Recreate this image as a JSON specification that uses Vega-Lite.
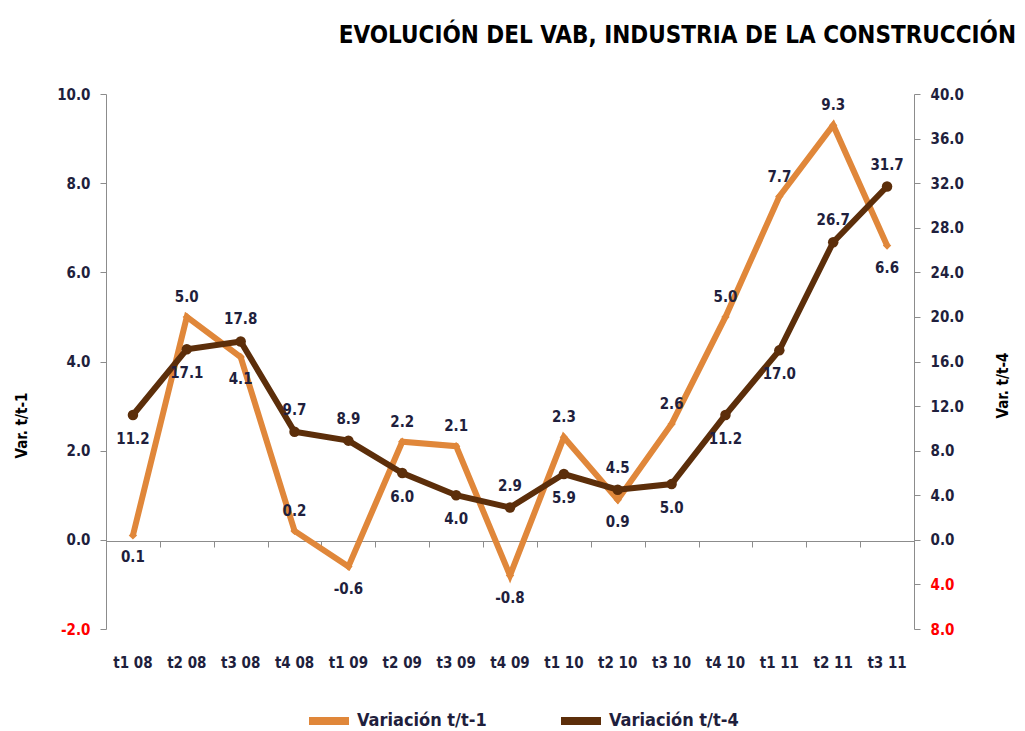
{
  "$schema": "https://vega.github.io/schema/vega-lite/v6.json",
  "width": 808,
  "height": 535,
  "autosize": {"type": "none"},
  "padding": {"left": 106, "top": 94, "right": 111, "bottom": 102},
  "background": "white",
  "title": {
    "text": "EVOLUCIÓN DEL VAB, INDUSTRIA DE LA CONSTRUCCIÓN",
    "anchor": "end",
    "frame": "group",
    "dx": 102,
    "offset": 20,
    "baseline": "alphabetic",
    "fontSize": 24,
    "fontWeight": "bold",
    "color": "#000000",
    "font": "Liberation Sans Narrow, DejaVu Sans Condensed, sans-serif"
  },
  "config": {
    "locale": {"number": {"decimal": ".", "thousands": ",", "grouping": [3], "currency": ["$", ""], "minus": "-"}},
    "view": {"stroke": null},
    "font": "Liberation Sans Narrow, DejaVu Sans Condensed, sans-serif",
    "axis": {"grid": false, "labelFont": "Liberation Sans Narrow, DejaVu Sans Condensed, sans-serif", "titleFont": "Liberation Sans Narrow, DejaVu Sans Condensed, sans-serif"},
    "legend": {
      "orient": "none",
      "legendX": 199,
      "legendY": 603,
      "direction": "horizontal",
      "symbolType": "stroke",
      "symbolStrokeWidth": 8,
      "symbolSize": 1600,
      "labelFontSize": 18,
      "labelFontWeight": "bold",
      "labelColor": "#1f1f3d",
      "columnPadding": 58,
      "title": null
    }
  },
  "data": {
    "values": [
      {"q": "t1 08", "a": 0.1, "b": 11.2},
      {"q": "t2 08", "a": 5.0, "b": 17.1},
      {"q": "t3 08", "a": 4.1, "b": 17.8},
      {"q": "t4 08", "a": 0.2, "b": 9.7},
      {"q": "t1 09", "a": -0.6, "b": 8.9},
      {"q": "t2 09", "a": 2.2, "b": 6.0},
      {"q": "t3 09", "a": 2.1, "b": 4.0},
      {"q": "t4 09", "a": -0.8, "b": 2.9},
      {"q": "t1 10", "a": 2.3, "b": 5.9},
      {"q": "t2 10", "a": 0.9, "b": 4.5},
      {"q": "t3 10", "a": 2.6, "b": 5.0},
      {"q": "t4 10", "a": 5.0, "b": 11.2},
      {"q": "t1 11", "a": 7.7, "b": 17.0},
      {"q": "t2 11", "a": 9.3, "b": 26.7},
      {"q": "t3 11", "a": 6.6, "b": 31.7}
    ]
  },
  "layer": [
    {
      "encoding": {
        "x": {
          "field": "q", "type": "ordinal", "sort": null, "bandPosition": 0.5,
          "scale": {"type": "band", "paddingInner": 0, "paddingOuter": 0},
          "axis": {"orient": "bottom", "title": null, "domain": false, "ticks": false, "tickSize": 0, "labelPadding": 26, "labelAngle": 0, "labelFontSize": 15, "labelFontWeight": "bold", "labelColor": "#1f1f3d"}
        },
        "y": {
          "field": "a", "type": "quantitative",
          "scale": {"domain": [-2, 10], "nice": false, "zero": false},
          "axis": {
            "orient": "left", "values": [-2, 0, 2, 4, 6, 8, 10], "format": ".1f",
            "domainColor": "#8c8c8c", "tickColor": "#8c8c8c", "tickSize": 6, "labelPadding": 10,
            "labelFontSize": 15, "labelFontWeight": "bold",
            "labelColor": {"condition": {"test": "datum.value < 0", "value": "#ff0000"}, "value": "#1f1f3d"},
            "title": "Var. t/t-1", "titleFontSize": 15, "titleFontWeight": "bold", "titleColor": "#000000",
            "titleX": -77, "titleY": 331, "titleAngle": 270
          }
        }
      },
      "layer": [
        {
          "mark": {"type": "line", "strokeWidth": 6, "point": {"shape": "diamond", "size": 70, "filled": true, "color": "#E0873A"}},
          "encoding": {
            "color": {"datum": "Variación t/t-1", "type": "nominal", "scale": {"domain": ["Variación t/t-1", "Variación t/t-4"], "range": ["#E0873A", "#5C2E0A"]}}
          }
        },
        {
          "transform": [{"filter": "indexof(['t2 08','t4 08','t2 09','t3 09','t1 10','t3 10','t4 10','t1 11','t2 11'], datum.q) >= 0"}],
          "mark": {"type": "text", "dy": -20, "fontSize": 15, "fontWeight": "bold", "color": "#1f1f3d"},
          "encoding": {"text": {"field": "a", "type": "quantitative", "format": ".1f"}}
        },
        {
          "transform": [{"filter": "indexof(['t2 08','t4 08','t2 09','t3 09','t1 10','t3 10','t4 10','t1 11','t2 11'], datum.q) < 0"}],
          "mark": {"type": "text", "dy": 22, "fontSize": 15, "fontWeight": "bold", "color": "#1f1f3d"},
          "encoding": {"text": {"field": "a", "type": "quantitative", "format": ".1f"}}
        }
      ]
    },
    {
      "encoding": {
        "x": {
          "field": "q", "type": "ordinal", "sort": null, "bandPosition": 0.5,
          "scale": {"type": "band", "paddingInner": 0, "paddingOuter": 0},
          "axis": {"orient": "bottom", "title": null, "labels": false, "domain": true, "ticks": true, "tickBand": "extent", "tickSize": 6, "domainColor": "#8c8c8c", "tickColor": "#8c8c8c", "offset": -88}
        },
        "y": {
          "field": "b", "type": "quantitative",
          "scale": {"domain": [-8, 40], "nice": false, "zero": false},
          "axis": {
            "orient": "right", "values": [-8, -4, 0, 4, 8, 12, 16, 20, 24, 28, 32, 36, 40],
            "labelExpr": "format(abs(datum.value), '.1f')",
            "domainColor": "#8c8c8c", "tickColor": "#8c8c8c", "tickSize": 6, "labelPadding": 10,
            "labelFontSize": 15, "labelFontWeight": "bold",
            "labelColor": {"condition": {"test": "datum.value < 0", "value": "#ff0000"}, "value": "#1f1f3d"},
            "title": "Var. t/t-4", "titleFontSize": 15, "titleFontWeight": "bold", "titleColor": "#000000",
            "titleX": 96, "titleY": 291, "titleAngle": 270
          }
        }
      },
      "layer": [
        {
          "mark": {"type": "line", "strokeWidth": 6, "point": {"shape": "circle", "size": 110, "filled": true, "color": "#5C2E0A"}},
          "encoding": {
            "color": {"datum": "Variación t/t-4", "type": "nominal"}
          }
        },
        {
          "transform": [{"filter": "indexof(['t3 08','t4 08','t1 09','t4 09','t2 10','t2 11','t3 11'], datum.q) >= 0"}],
          "mark": {"type": "text", "dy": -22, "fontSize": 15, "fontWeight": "bold", "color": "#1f1f3d"},
          "encoding": {"text": {"field": "b", "type": "quantitative", "format": ".1f"}}
        },
        {
          "transform": [{"filter": "indexof(['t3 08','t4 08','t1 09','t4 09','t2 10','t2 11','t3 11'], datum.q) < 0"}],
          "mark": {"type": "text", "dy": 24, "fontSize": 15, "fontWeight": "bold", "color": "#1f1f3d"},
          "encoding": {"text": {"field": "b", "type": "quantitative", "format": ".1f"}}
        }
      ]
    }
  ],
  "resolve": {"scale": {"y": "independent"}, "axis": {"x": "independent"}}
}
